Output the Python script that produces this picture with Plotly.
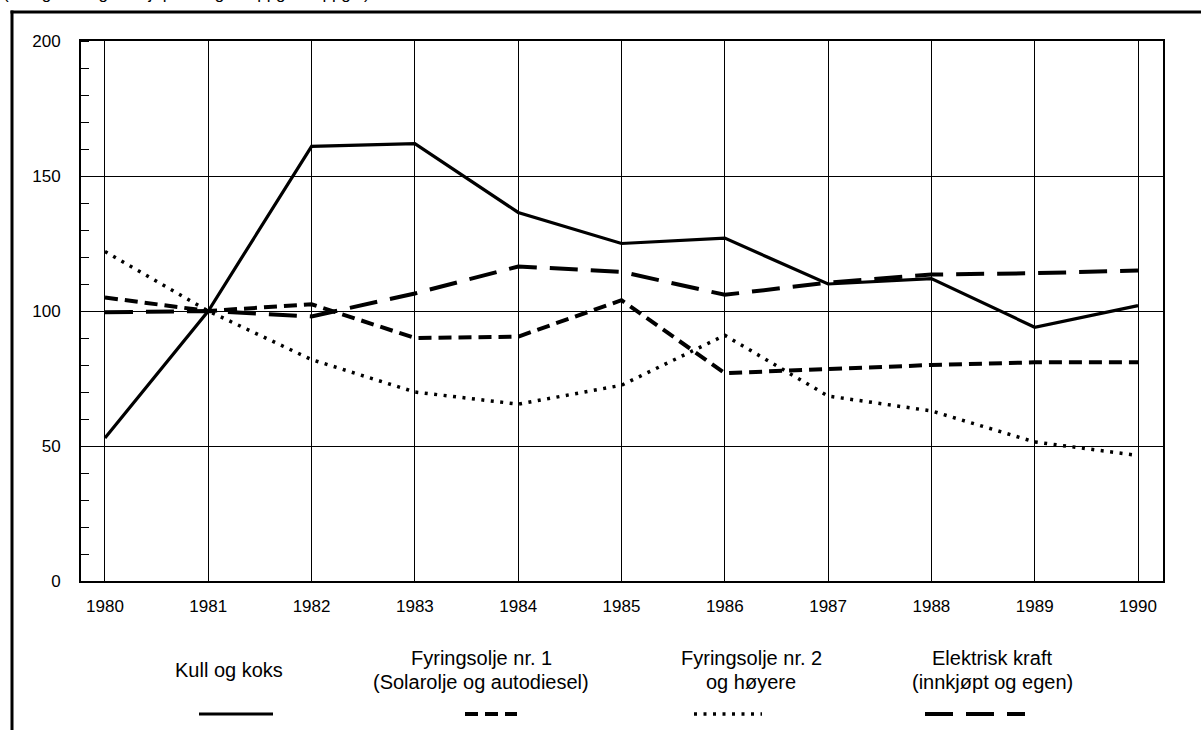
import plotly.graph_objects as go

# ---- data ----
years = [1980, 1981, 1982, 1983, 1984, 1985, 1986, 1987, 1988, 1989, 1990]
kull_og_koks = [53, 100, 161, 162, 136.5, 125, 127, 110, 112, 94, 102]
fyringsolje_1 = [105, 100, 102.5, 90, 90.5, 104, 77, 78.5, 80, 81, 81]
fyringsolje_2 = [122, 100, 82, 70, 65.5, 72.5, 91, 68.5, 63, 51.5, 46.5]
elektrisk_kraft = [99.5, 100, 98, 106.5, 116.5, 114.5, 106, 110.5, 113.5, 114, 115]

series_names = ["Kull og koks", "Fyringsolje nr. 1", "Fyringsolje nr. 2", "Elektrisk kraft"]
legend_lines = [
    ["Kull og koks"],
    ["Fyringsolje nr. 1", "(Solarolje og autodiesel)"],
    ["Fyringsolje nr. 2", "og høyere"],
    ["Elektrisk kraft", "(innkjøpt og egen)"],
]
y_ticks = [0, 50, 100, 150, 200]
top_text = "(Vektgrunnlag: innkjøpt mengde oppgaveoppgitt)"

# ---- layout geometry (page pixels; body margin removed below) ----
W, H = 1201, 730
L, R, T, B = 81, 1163, 41, 581


def px2x(px):
    return (px - L) / (R - L)


def px2y(py):
    return (B - py) / (B - T)


styles = [
    dict(color="black", width=3.2, dash="solid"),
    dict(color="black", width=4, dash="13px,7px"),
    dict(color="black", width=3.5, dash="3px,6.5px"),
    dict(color="black", width=4, dash="28px,13px"),
]
values = [kull_og_koks, fyringsolje_1, fyringsolje_2, elektrisk_kraft]

fig = go.Figure()
for name, vals, st in zip(series_names, values, styles):
    fig.add_trace(go.Scatter(x=years, y=vals, mode="lines", name=name, line=st,
                             showlegend=False))

font_axis = dict(family="Liberation Sans, Arial, sans-serif", size=17, color="black")
font_leg = dict(family="Liberation Sans, Arial, sans-serif", size=20, color="black")

fig.update_xaxes(
    range=[1979.768, 1990.242], tickmode="array", tickvals=years,
    ticktext=[str(y) for y in years], showgrid=True, gridcolor="black", gridwidth=1,
    showline=True, linecolor="black", linewidth=1.8, mirror=True, ticks="",
    ticklabelstandoff=9, tickfont=font_axis, zeroline=False,
)
fig.update_yaxes(
    range=[0, 200], tickmode="array", tickvals=y_ticks,
    ticktext=[str(v) for v in y_ticks], showgrid=True, gridcolor="black", gridwidth=1,
    showline=True, linecolor="black", linewidth=1.8, mirror=True, ticks="",
    ticklabelstandoff=15, tickfont=font_axis, zeroline=False,
    minor=dict(ticks="inside", ticklen=8, tickwidth=1, tickcolor="black", dtick=10,
               showgrid=False),
)

# legend text and samples (drawn below the plot)
centers_text = [229, 481, 751, 992]
centers_sample = [236, 491, 728, 975]
sample_half = [37, 26, 34, 50]
shapes = []
annotations = []
for i, lines in enumerate(legend_lines):
    if len(lines) == 1:
        annotations.append(dict(x=px2x(centers_text[i]), y=px2y(670), xref="paper", yref="paper",
                                text=lines[0], showarrow=False, font=font_leg,
                                xanchor="center", yanchor="middle"))
    else:
        for j, ln in enumerate(lines):
            annotations.append(dict(x=px2x(centers_text[i]), y=px2y(658 + 24 * j), xref="paper",
                                    yref="paper", text=ln, showarrow=False, font=font_leg,
                                    xanchor="center", yanchor="middle"))
    shapes.append(dict(type="line", xref="paper", yref="paper",
                       x0=px2x(centers_sample[i] - sample_half[i]),
                       x1=px2x(centers_sample[i] + sample_half[i]),
                       y0=px2y(714), y1=px2y(714), line=styles[i]))

# outer frame: only its top and left sides fall inside the page
frame = dict(color="black", width=3)
shapes.append(dict(type="line", xref="paper", yref="paper",
                   x0=px2x(10.5), x1=px2x(1201), y0=px2y(12), y1=px2y(12), line=frame))
shapes.append(dict(type="line", xref="paper", yref="paper",
                   x0=px2x(12), x1=px2x(12), y0=px2y(10.5), y1=px2y(730), line=frame))

# top text cut off by the page edge
annotations.append(dict(x=px2x(1), y=px2y(5), xref="paper", yref="paper", text=top_text,
                        showarrow=False, xanchor="left", yanchor="bottom",
                        font=dict(family="Liberation Sans, Arial, sans-serif", size=17,
                                  color="black")))

fig.update_layout(
    width=W, height=H, margin=dict(l=L, r=W - R, t=T, b=H - B),
    paper_bgcolor="white", plot_bgcolor="white", showlegend=False,
    shapes=shapes, annotations=annotations,
)

fig.write_html(
    "out.html",
    config={"displayModeBar": False},
    post_script="document.body.style.margin='0';document.body.style.overflow='hidden';",
)
